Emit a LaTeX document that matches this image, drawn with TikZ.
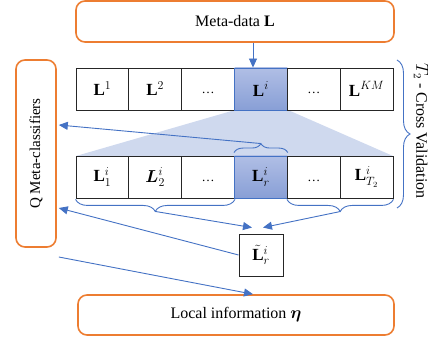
\documentclass[tikz,border=0pt]{standalone}
\usepackage{amsmath}
\usepackage{fontspec}
\setmainfont{Liberation Serif}
\usetikzlibrary{arrows.meta,decorations.pathreplacing}
\definecolor{orng}{RGB}{237,125,49}
\definecolor{blu}{RGB}{68,114,196}
\definecolor{lblu}{RGB}{207,217,238}
\definecolor{htop}{RGB}{176,190,229}
\definecolor{hbot}{RGB}{136,159,214}
\newcommand{\celldots}{{\fontsize{13}{16}\selectfont\vphantom{L}\ldots}}
\begin{document}
\begin{tikzpicture}[x=1pt,y=-1pt,
  every node/.style={font=\fontsize{16}{19}\selectfont},
  obox/.style={draw=orng,line width=1.6pt,rounded corners=9pt,inner sep=0pt},
  cell/.style={draw=black!85,line width=0.9pt,minimum width=52.8pt,minimum height=42pt,inner sep=0pt,font=\fontsize{17}{20}\selectfont},
  hcell/.style={cell,draw=blu,top color=htop,bottom color=hbot},
  conn/.style={blu,line width=0.9pt,-{Triangle[length=9pt,width=8pt]}},
  brc/.style={blu,line width=0.9pt,decorate,decoration={brace,amplitude=#1}}
]
\useasboundingbox (0,0) rectangle (432,339);
% light trapezoid
\fill[lblu] (235,110) -- (288,110) -- (393,156) -- (76,156) -- cycle;
% top box
\node[obox,minimum width=318pt,minimum height=41pt] (meta) at (235,21.5) {Meta-data $\mathbf{L}$};
% row 1
\node[cell]  (a1) at (102.4,89) {$\mathbf{L}^{1}$};
\node[cell]  (a2) at (155.2,89) {$\mathbf{L}^{2}$};
\node[cell]  (a3) at (208.1,89) {\celldots};
\node[hcell] (a4) at (260.9,89) {$\mathbf{L}^{i}$};
\node[cell]  (a5) at (313.8,89) {\celldots};
\node[cell]  (a6) at (366.6,89) {$\mathbf{L}^{KM}$};
% row 2
\node[cell]  (b1) at (102.4,177) {$\mathbf{L}^{i}_{1}$};
\node[cell]  (b2) at (155.2,177) {$\boldsymbol{L}^{i}_{2}$};
\node[cell]  (b3) at (208.1,177) {\celldots};
\node[hcell] (b4) at (260.9,177) {$\mathbf{L}^{i}_{r}$};
\node[cell]  (b5) at (313.8,177) {\celldots};
\node[cell]  (b6) at (366.6,177) {$\mathbf{L}^{i}_{T_2}$};
% Q box
\node[obox,minimum width=40pt,minimum height=187pt] (q) at (36,153.5) {\fontsize{15}{18}\selectfont\rotatebox{90}{Q Meta-classifiers}};
% L tilde
\node[cell,minimum width=44pt,minimum height=42pt] (lr) at (261,255) {${\tilde{\mathbf{L}}}^{i}_{r}$};
% local info
\node[obox,minimum width=316pt,minimum height=40pt] (loc) at (236,315) {Local information $\boldsymbol{\eta}$};
% cross validation
\node[rotate=-90] (cv) at (421,131) {$T_2$ - Cross Validation};
\draw[brc=13] (397,60) -- (397,208);
% braces
\draw[brc=9] ([yshift=3pt]b4.north west) -- ([yshift=3pt]b4.north east);
\draw[brc=12] ([yshift=-1pt]b3.south east) -- ([yshift=-1pt]b1.south west);
\draw[brc=12] ([yshift=-1pt]b6.south east) -- ([yshift=-1pt]b5.south west);
\coordinate (tb) at ([yshift=12pt]b4.north);
\coordinate (lb) at ([yshift=-13pt]b2.south);
\coordinate (rb) at ([yshift=-13pt]b5.south east);
% connectors
\coordinate (mA) at ([xshift=18pt]meta.south);
\draw[conn] (mA) -- (mA |- a4.north);
\coordinate (q1) at ([xshift=2pt]q.east |- 0,125);
\coordinate (q2) at ([xshift=2pt]q.east |- 0,208);
\coordinate (q3) at ([xshift=2pt]q.east |- 0,257);
\draw[conn] (tb) -- (q1);
\draw[conn] (lb) -- ([xshift=-9pt,yshift=6pt]lr.north);
\draw[conn] (rb) -- ([xshift=2pt,yshift=6pt]lr.north);
\draw[conn] (lr.west) -- (q2);
\draw[conn] (q3) -- ([xshift=17pt]loc.north);
\end{tikzpicture}
\end{document}
